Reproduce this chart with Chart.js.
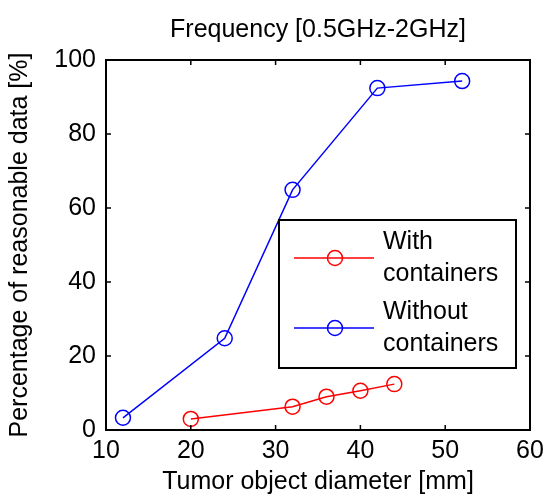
<!DOCTYPE html>
<html>
<head>
<meta charset="utf-8">
<script src="https://cdn.jsdelivr.net/npm/chart.js@4"></script>
<style>
  body { margin: 0; background: #fff; }
  canvas { display: block; }
</style>
</head>
<body>
<canvas id="myChart" width="543" height="499"></canvas>
<script>
// values
const diamWith = [20, 32, 36, 40, 44];
const pctWith = [3.0, 6.3, 9.0, 10.6, 12.4];
const diamWithout = [12, 24, 32, 42, 52];
const pctWithout = [3.3, 24.8, 64.9, 92.4, 94.3];
const seriesLabels = [['With', 'containers'], ['Without', 'containers']];
const xTicks = [10, 20, 30, 40, 50, 60];
const yTicks = [0, 20, 40, 60, 80, 100];

const FONT = "'Liberation Sans', Arial, sans-serif";
const FS = 25;

const toPoints = (xs, ys) => xs.map((x, i) => ({ x: x, y: ys[i] }));

// box around the axes with inward ticks on all four sides, like matlab
const boxPlugin = {
    id: 'box',
    afterDatasetsDraw(chart) {
        const { ctx, chartArea: a, scales } = chart;
        ctx.save();
        ctx.strokeStyle = '#000';
        ctx.lineWidth = 1.5;
        ctx.beginPath();
        xTicks.forEach(v => {
            const px = scales.x.getPixelForValue(v);
            ctx.moveTo(px, a.bottom); ctx.lineTo(px, a.bottom - 5);
            ctx.moveTo(px, a.top); ctx.lineTo(px, a.top + 5);
        });
        yTicks.forEach(v => {
            const py = scales.y.getPixelForValue(v);
            ctx.moveTo(a.left, py); ctx.lineTo(a.left + 5, py);
            ctx.moveTo(a.right, py); ctx.lineTo(a.right - 5, py);
        });
        ctx.stroke();
        ctx.lineWidth = 2;
        ctx.strokeRect(a.left, a.top, a.right - a.left, a.bottom - a.top);
        ctx.restore();
    }
};

// legend inside the axes (chart.js legend can't float there)
const legendPlugin = {
    id: 'boxLegend',
    afterDraw(chart) {
        const { ctx } = chart;
        const bx = 279, by = 220, bw = 237, bh = 148;
        ctx.save();
        ctx.fillStyle = '#fff';
        ctx.fillRect(bx, by, bw, bh);
        ctx.strokeStyle = '#000';
        ctx.lineWidth = 2;
        ctx.strokeRect(bx, by, bw, bh);
        chart.data.datasets.forEach((ds, i) => {
            const cy = by + 38 + i * 70;
            ctx.strokeStyle = ds.borderColor;
            ctx.lineWidth = 1.5;
            ctx.beginPath();
            ctx.moveTo(bx + 15, cy); ctx.lineTo(bx + 95, cy);
            ctx.stroke();
            ctx.beginPath();
            ctx.arc(bx + 56, cy, ds.pointRadius, 0, Math.PI * 2);
            ctx.stroke();
            ctx.fillStyle = '#000';
            ctx.font = FS + 'px ' + FONT;
            ctx.textBaseline = 'middle';
            ctx.textAlign = 'left';
            ds.label.forEach((line, j) => {
                ctx.fillText(line, bx + 104, cy - 16 + j * 32);
            });
        });
        ctx.restore();
    }
};

new Chart(document.getElementById('myChart'), {
    type: 'line',
    data: {
        datasets: [
            {
                label: seriesLabels[0],
                data: toPoints(diamWith, pctWith),
                borderColor: '#ff0000',
                borderWidth: 1.5,
                pointRadius: 7.5,
                pointBorderWidth: 1.5,
                pointBackgroundColor: 'rgba(0,0,0,0)',
                pointBorderColor: '#ff0000'
            },
            {
                label: seriesLabels[1],
                data: toPoints(diamWithout, pctWithout),
                borderColor: '#0000ff',
                borderWidth: 1.5,
                pointRadius: 7.5,
                pointBorderWidth: 1.5,
                pointBackgroundColor: 'rgba(0,0,0,0)',
                pointBorderColor: '#0000ff'
            }
        ]
    },
    options: {
        responsive: false,
        animation: false,
        devicePixelRatio: 1,
        layout: { padding: { left: 0, right: 13, top: 0, bottom: 0 } },
        plugins: {
            legend: { display: false },
            tooltip: { enabled: false },
            title: {
                display: true,
                text: 'Frequency [0.5GHz-2GHz]',
                color: '#000',
                fullSize: false,
                font: { family: FONT, size: FS, weight: 'normal' },
                padding: { top: 15, bottom: 15 }
            }
        },
        scales: {
            x: {
                type: 'linear',
                min: 10,
                max: 60,
                afterBuildTicks: s => { s.ticks = xTicks.map(v => ({ value: v })); },
                afterFit: s => { s.height = 69; s.paddingLeft = 0; s.paddingRight = 0; },
                grid: { display: false, drawTicks: false },
                border: { display: false },
                ticks: { color: '#000', padding: 6, maxRotation: 0, font: { family: FONT, size: FS } },
                title: {
                    display: true,
                    text: 'Tumor object diameter [mm]',
                    color: '#000',
                    font: { family: FONT, size: FS },
                    padding: { top: 0, bottom: 2 }
                }
            },
            y: {
                min: 0,
                max: 100,
                afterBuildTicks: s => { s.ticks = yTicks.map(v => ({ value: v })); },
                afterFit: s => { s.width = 106; s.paddingTop = 0; s.paddingBottom = 0; },
                grid: { display: false, drawTicks: false },
                border: { display: false },
                ticks: { color: '#000', padding: 10, font: { family: FONT, size: FS } },
                title: {
                    display: true,
                    text: 'Percentage of reasonable data [%]',
                    color: '#000',
                    font: { family: FONT, size: FS },
                    padding: { top: 5, bottom: 0 }
                }
            }
        }
    },
    plugins: [boxPlugin, legendPlugin]
});
</script>
</body>
</html>
